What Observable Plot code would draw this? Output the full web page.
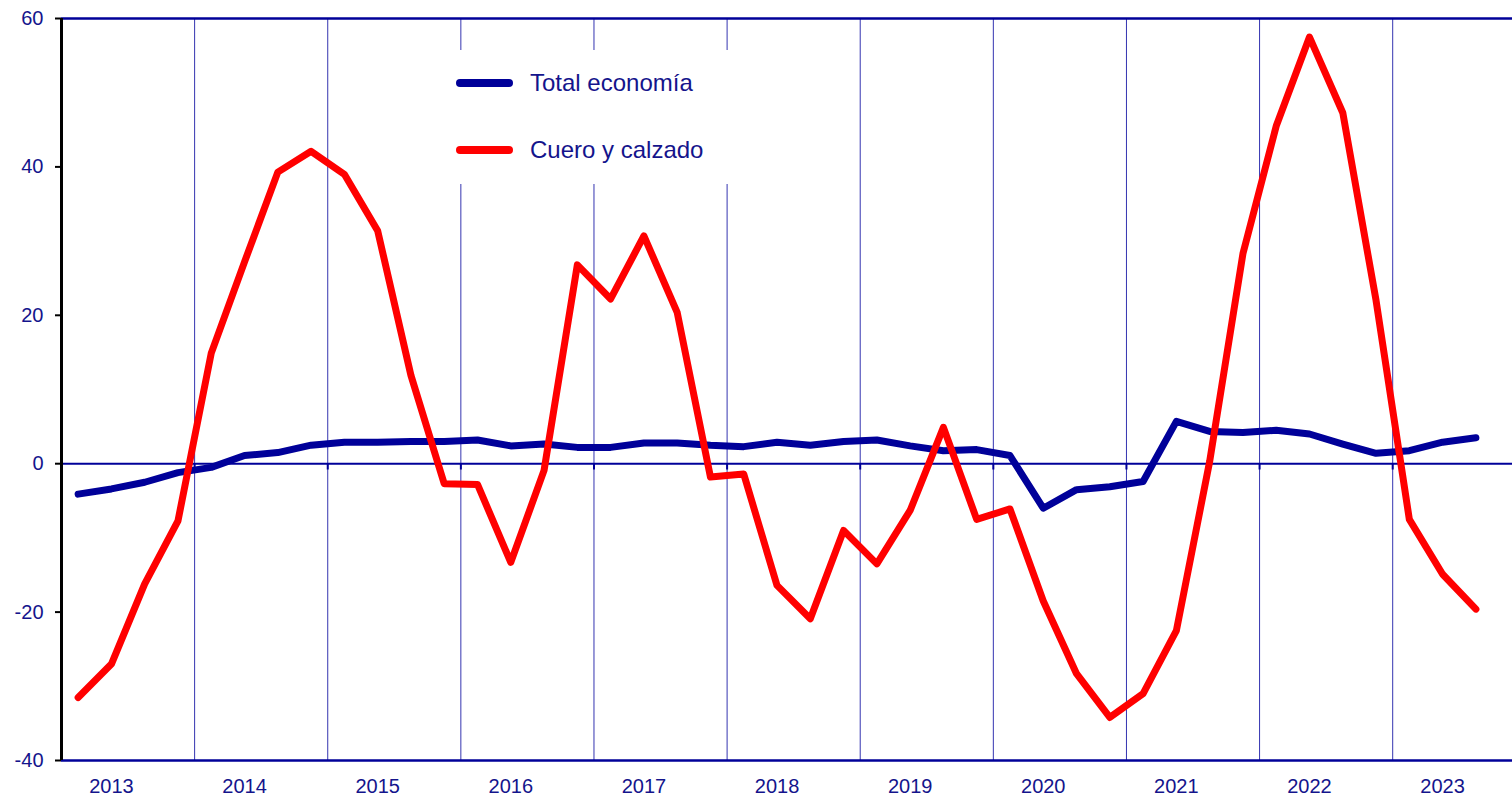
<!DOCTYPE html>
<html><head><meta charset="utf-8">
<script src="https://cdn.jsdelivr.net/npm/d3@7"></script>
<script src="https://cdn.jsdelivr.net/npm/@observablehq/plot@0.6"></script>
<style>
body{margin:0;background:#fff;font-family:"Liberation Sans",Arial,sans-serif;}
#wrap{position:relative;width:1512px;height:799px;overflow:hidden;}
#legend{position:absolute;left:445px;top:50px;width:290px;height:134px;background:#fff;}
.sw{position:absolute;left:11px;width:57px;height:8px;border-radius:4px;}
.lab{position:absolute;left:85px;font-size:24px;line-height:1;color:#14148c;white-space:nowrap;}
</style></head>
<body><div id="wrap"></div>
<script>
const years = [2013,2014,2015,2016,2017,2018,2019,2020,2021,2022,2023];
const seriesNames = ["Total economía","Cuero y calzado"];
const seriesColors = ["#000099","#ff0000"];
const yTicks = [-40,-20,0,20,40,60];
const totalEconomia = [-4.1,-3.4,-2.5,-1.2,-0.5,1.1,1.5,2.5,2.9,2.9,3.0,3.0,3.2,2.4,2.65,2.2,2.2,2.8,2.8,2.5,2.3,2.9,2.5,3.0,3.2,2.4,1.75,1.9,1.1,-6.0,-3.5,-3.1,-2.4,5.7,4.35,4.2,4.5,4.0,2.65,1.4,1.75,2.9,3.5];
const cueroCalzado = [-31.5,-27.0,-16.2,-7.7,14.9,27.2,39.3,42.1,39.0,31.4,11.9,-2.7,-2.8,-13.3,-0.9,26.8,22.2,30.7,20.4,-1.8,-1.4,-16.4,-20.9,-9.0,-13.5,-6.3,4.9,-7.5,-6.1,-18.5,-28.3,-34.2,-31.0,-22.5,0.3,28.3,45.5,57.5,47.3,22.0,-7.5,-14.9,-19.6];

const navy = "#14148c";
const toT = i => years[0] + Math.floor(i/4) + ((i%4) + 0.5)/4;
const rowsTotal = totalEconomia.map((v,i) => ({t: toT(i), v}));
const rowsCuero = cueroCalzado.map((v,i) => ({t: toT(i), v}));
const bounds = years.slice(1);
const yExt = d3.extent(yTicks);

const chart = Plot.plot({
  width: 1512,
  height: 799,
  marginLeft: 61,
  marginRight: 0,
  marginTop: 18,
  marginBottom: 39,
  style: {fontSize: "20px", fontFamily: "'Liberation Sans', Arial, sans-serif", background: "white", overflow: "visible"},
  x: {domain: [years[0], years[0] + 10.9]},
  y: {domain: yExt},
  marks: [
    Plot.ruleX(bounds, {stroke: "#3434b0", strokeWidth: 1}),
    Plot.ruleY(yExt, {stroke: "#000099", strokeWidth: 2.3}),
    Plot.ruleY([0], {stroke: "#000099", strokeWidth: 2}),
    Plot.ruleX(bounds, {y1: 0, y2: -0.85, stroke: "#000099", strokeWidth: 2}),
    Plot.line(rowsTotal, {x: "t", y: "v", stroke: seriesColors[0], strokeWidth: 7, strokeLinejoin: "round", strokeLinecap: "round"}),
    Plot.line(rowsCuero, {x: "t", y: "v", stroke: seriesColors[1], strokeWidth: 7, strokeLinejoin: "round", strokeLinecap: "round"}),
    Plot.ruleX([years[0]], {stroke: "black", strokeWidth: 3}),
    Plot.axisY({ticks: yTicks, tickFormat: d => String(d), tickSize: 6, tickPadding: 12, stroke: "black", strokeWidth: 2, fill: navy, label: null}),
    Plot.axisX({ticks: years.map(y => y + 0.375), tickFormat: d => String(Math.floor(d)), tickSize: 0, tickPadding: 18, fill: navy, label: null})
  ]
});

const wrap = document.getElementById("wrap");
wrap.appendChild(chart);

const legend = document.createElement("div");
legend.id = "legend";
const swTops = [29, 96];
const labTops = [20.5, 87.5];
seriesNames.forEach((name, k) => {
  const sw = document.createElement("div");
  sw.className = "sw";
  sw.style.top = swTops[k] + "px";
  sw.style.background = seriesColors[k];
  legend.appendChild(sw);
  const lab = document.createElement("div");
  lab.className = "lab";
  lab.style.top = labTops[k] + "px";
  lab.textContent = name;
  legend.appendChild(lab);
});
wrap.appendChild(legend);
</script>
</body></html>
